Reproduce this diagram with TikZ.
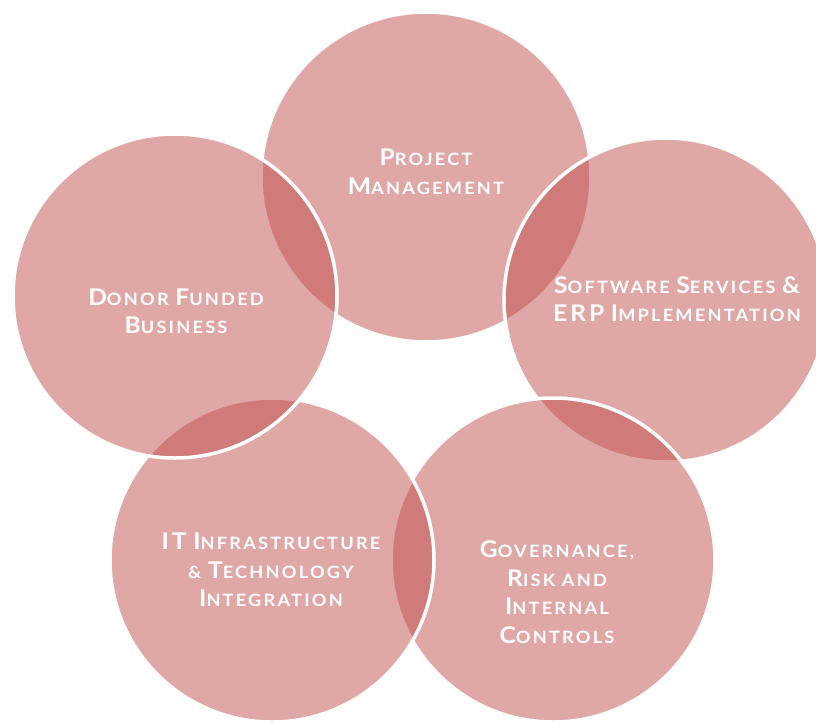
\documentclass[tikz,border=0pt]{standalone}
\usepackage{fontspec}
\setmainfont{Lato}[LetterSpace=13,FakeStretch=1.07]
\newcommand\BigL[1]{{\fontsize{23}{28.5}\selectfont #1}}
\newcommand\SC[2]{\BigL{#1}#2}
\definecolor{petal}{HTML}{C0504D}
\tikzset{
  petal/.style={circle, minimum size=324pt, inner sep=0pt, outer sep=0pt,
    fill=petal, fill opacity=0.5, draw=white, draw opacity=1, line width=3.5pt},
  lbl/.style={text=white, align=center, inner sep=0pt,
    font=\bfseries\fontsize{17}{28.5}\selectfont}
}
\begin{document}
\begin{tikzpicture}[x=1pt,y=-1pt]
\useasboundingbox (0,0) rectangle (816,723);
\clip (0,0) rectangle (816,723);
\node[petal, minimum size=330pt] (pm) at (426,177) {};
\node[petal] (sw) at (666,300) {};
\node[petal] (gov) at (553,560) {};
\node[petal] (it) at (272,560) {};
\node[petal] (dfb) at (175,296) {};
\node[lbl] (tpm) at (426,172) {\SC{P}{ROJECT}\\\SC{M}{ANAGEMENT}};
\node[lbl] (tsw) at (677,299) {\SC{S}{OFTWARE} \SC{S}{ERVICES} \BigL{\&}\\\BigL{ERP} \SC{I}{MPLEMENTATION}};
\node[lbl] (tdfb) at (176,311) {\SC{D}{ONOR} \SC{F}{UNDED}\\\SC{B}{USINESS}};
\node[lbl] (tit) at (271,570) {\BigL{IT} \SC{I}{NFRASTRUCTURE}\\\& \SC{T}{ECHNOLOGY}\\\SC{I}{NTEGRATION}};
\node[lbl] (tgov) at (557,592) {\SC{G}{OVERNANCE,}\\\SC{R}{ISK} AND\\\SC{I}{NTERNAL}\\\SC{C}{ONTROLS}};
\end{tikzpicture}
\end{document}
